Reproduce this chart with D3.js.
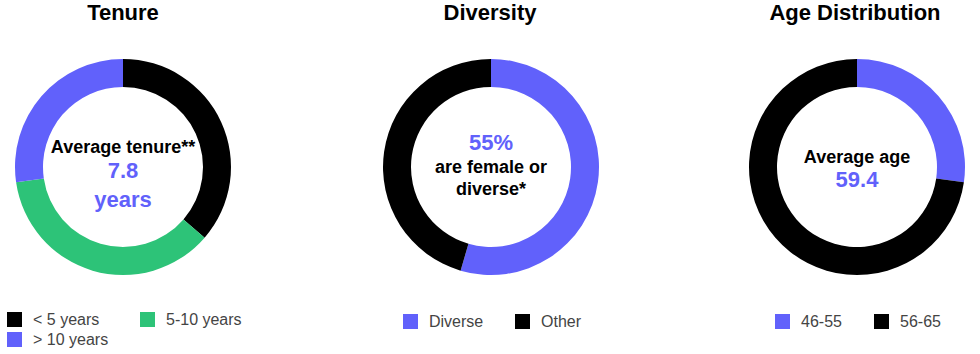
<!DOCTYPE html>
<html><head><meta charset="utf-8">
<script src="https://cdn.jsdelivr.net/npm/d3@7"></script>
<style>
body{margin:0;background:#fff;}
svg{display:block;font-family:"Liberation Sans",Arial,sans-serif;}
</style></head>
<body><svg id="c" width="980" height="354"></svg>
<script>
// Data
const tenureLabels = ["< 5 years", "5-10 years", "> 10 years"];
const tenureValues = [4, 4, 3];
const diversityLabels = ["Diverse", "Other"];
const diversityValues = [6, 5];
const ageLabels = ["46-55", "56-65"];
const ageValues = [3, 8];
const titles = ["Tenure", "Diversity", "Age Distribution"];

const BLACK = "#000000", PURPLE = "#6161fb", GREEN = "#2dc378";
const svg = d3.select("#c");

const charts = [
  {title: titles[0], labels: tenureLabels, values: tenureValues, colors: [BLACK, GREEN, PURPLE], cx: 123, titleX: 123,
   center: [{t:"Average tenure**", y:153, size:18, c:BLACK}, {t:"7.8", y:178, size:22, c:PURPLE}, {t:"years", y:207, size:22, c:PURPLE}],
   legend: [{x:7, y:312}, {x:140, y:312}, {x:7, y:332}]},
  {title: titles[1], labels: diversityLabels, values: diversityValues, colors: [PURPLE, BLACK], cx: 491, titleX: 490,
   center: [{t:"55%", y:150, size:22, c:PURPLE}, {t:"are female or", y:173, size:18, c:BLACK}, {t:"diverse*", y:195, size:18, c:BLACK}],
   legend: [{x:403, y:314}, {x:515, y:314}]},
  {title: titles[2], labels: ageLabels, values: ageValues, colors: [PURPLE, BLACK], cx: 857, titleX: 855,
   center: [{t:"Average age", y:163, size:18, c:BLACK}, {t:"59.4", y:187, size:22, c:PURPLE}],
   legend: [{x:775, y:314}, {x:874, y:314}]}
];

const cy = 167, rOuter = 108, rInner = 80;
const pie = d3.pie().sort(null).value(d => d);
const arc = d3.arc().innerRadius(rInner).outerRadius(rOuter);

charts.forEach(ch => {
  svg.append("text").attr("x", ch.titleX).attr("y", 20).attr("text-anchor", "middle")
    .attr("font-size", 22).attr("font-weight", "bold").attr("fill", "#000").text(ch.title);
  const color = d3.scaleOrdinal().domain(ch.labels).range(ch.colors);
  const g = svg.append("g").attr("transform", `translate(${ch.cx},${cy})`);
  g.selectAll("path").data(pie(ch.values)).join("path")
    .attr("d", arc).attr("fill", (d, i) => color(ch.labels[i]));
  ch.center.forEach(t => {
    svg.append("text").attr("x", ch.cx).attr("y", t.y).attr("text-anchor", "middle")
      .attr("font-size", t.size).attr("font-weight", "bold").attr("fill", t.c).text(t.t);
  });
  ch.labels.forEach((lab, i) => {
    const p = ch.legend[i];
    svg.append("rect").attr("x", p.x).attr("y", p.y).attr("width", 15).attr("height", 15).attr("fill", color(lab));
    svg.append("text").attr("x", p.x + 26).attr("y", p.y + 13).attr("font-size", 16).attr("fill", "#444").text(lab);
  });
});
</script></body></html>
